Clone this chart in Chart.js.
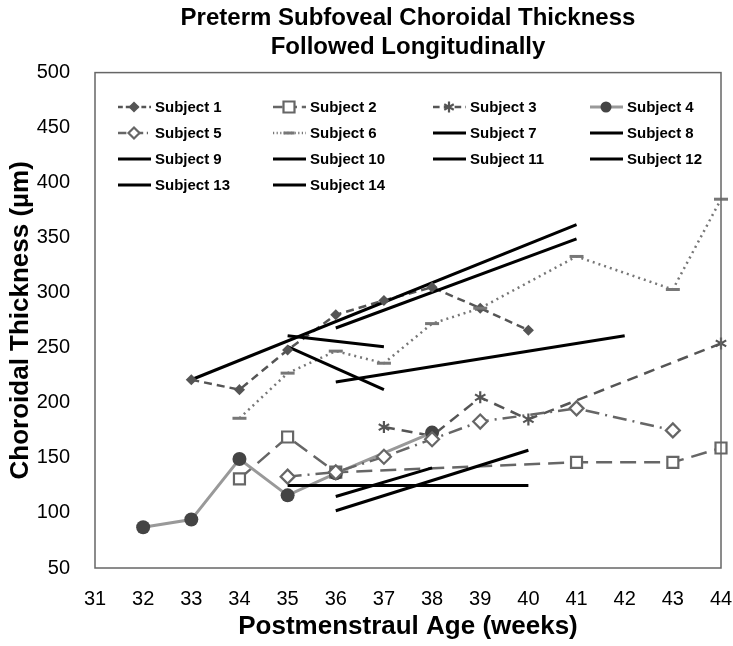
<!DOCTYPE html>
<html lang="en">
<head>
  <meta charset="utf-8">
  <title>Preterm Subfoveal Choroidal Thickness</title>
  <script src="https://cdn.jsdelivr.net/npm/chart.js@4/dist/chart.umd.min.js"></script>
  <style>
    html, body { margin: 0; padding: 0; background: #fff; }
    #wrap { width: 733px; height: 646px; }
  </style>
</head>
<body>
  <div id="wrap"><canvas id="myChart" width="733" height="646"></canvas></div>
  <script>
    // values
    const subjectNames = ['Subject 1', 'Subject 2', 'Subject 3', 'Subject 4', 'Subject 5', 'Subject 6', 'Subject 7',
      'Subject 8', 'Subject 9', 'Subject 10', 'Subject 11', 'Subject 12', 'Subject 13', 'Subject 14'];

    const s1Weeks = [33, 34, 35, 36, 37, 38, 39, 40];
    const s1Values = [221, 212, 248, 280, 293, 305, 286, 266];
    const s2Weeks = [34, 35, 36, 41, 43, 44];
    const s2Values = [131, 169, 137, 146, 146, 159];
    const s3Weeks = [37, 38, 39, 40, 44];
    const s3Values = [178, 170, 205, 185, 254];
    const s4Weeks = [32, 33, 34, 35, 36, 38];
    const s4Values = [87, 94, 149, 116, 136, 173];
    const s5Weeks = [35, 36, 37, 38, 39, 41, 43];
    const s5Values = [133, 137, 151, 167, 183, 195, 175];
    const s6Weeks = [34, 35, 36, 37, 38, 39, 41, 43, 44];
    const s6Values = [186, 227, 247, 236, 272, 286, 333, 303, 385];
    const s7Weeks = [33, 41];
    const s7Values = [221, 362];
    const s8Weeks = [36, 41];
    const s8Values = [268, 349];
    const s9Weeks = [35, 37];
    const s9Values = [261, 251];
    const s10Weeks = [35, 37];
    const s10Values = [251, 212];
    const s11Weeks = [36, 42];
    const s11Values = [219, 261];
    const s12Weeks = [35, 40];
    const s12Values = [125, 125];
    const s13Weeks = [36, 38];
    const s13Values = [115, 141];
    const s14Weeks = [36, 40];
    const s14Values = [102, 157];

    const xTicks = [31, 32, 33, 34, 35, 36, 37, 38, 39, 40, 41, 42, 43, 44];
    const yTicks = [50, 100, 150, 200, 250, 300, 350, 400, 450, 500];

    const allWeeks = [s1Weeks, s2Weeks, s3Weeks, s4Weeks, s5Weeks, s6Weeks, s7Weeks,
      s8Weeks, s9Weeks, s10Weeks, s11Weeks, s12Weeks, s13Weeks, s14Weeks];
    const allValues = [s1Values, s2Values, s3Values, s4Values, s5Values, s6Values, s7Values,
      s8Values, s9Values, s10Values, s11Values, s12Values, s13Values, s14Values];

    const FONT = '"Liberation Sans", Arial, Helvetica, sans-serif';

    function pts(w, v) {
      return w.map(function (x, i) { return { x: x, y: v[i] }; });
    }

    // look of each subject series
    const looks = [
      { color: '#555', width: 2.5, dash: [8, 5], marker: 'diamond', size: 4, fill: '#555' },
      { color: '#666', width: 2.5, dash: [16, 8], marker: 'square', size: 5.5, fill: '#fff' },
      { color: '#555', width: 2.5, dash: [11, 7], marker: 'star', size: 6, fill: '#555' },
      { color: '#999', width: 3, dash: [], marker: 'circle', size: 7, fill: '#444', markerColor: '#444' },
      { color: '#666', width: 2.5, dash: [14, 6, 2, 6], marker: 'diamond', size: 7, fill: '#fff' },
      { color: '#777', width: 2.5, dash: [2, 4], marker: 'dash', size: 7, fill: '#777' }
    ];

    const datasets = subjectNames.map(function (name, i) {
      const lk = looks[i] || { color: '#000', width: 3, dash: [], marker: null };
      return {
        label: name,
        data: pts(allWeeks[i], allValues[i]),
        borderColor: lk.color,
        borderWidth: lk.width,
        borderDash: lk.dash,
        pointRadius: 0,
        tension: 0,
        fill: false,
        order: i < 6 ? 20 - i : 1,
        look: lk
      };
    });

    function drawMarker(ctx, lk, x, y) {
      if (!lk.marker) return;
      const r = lk.size;
      ctx.save();
      ctx.setLineDash([]);
      ctx.strokeStyle = lk.markerColor || lk.color;
      ctx.fillStyle = lk.fill;
      ctx.lineWidth = 2.2;
      ctx.beginPath();
      if (lk.marker === 'diamond') {
        ctx.moveTo(x, y - r); ctx.lineTo(x + r, y); ctx.lineTo(x, y + r); ctx.lineTo(x - r, y); ctx.closePath();
        ctx.fill(); ctx.stroke();
      } else if (lk.marker === 'square') {
        ctx.rect(x - r, y - r, 2 * r, 2 * r);
        ctx.fill(); ctx.stroke();
      } else if (lk.marker === 'circle') {
        ctx.arc(x, y, r, 0, Math.PI * 2);
        ctx.fill();
      } else if (lk.marker === 'star') {
        for (let k = 0; k < 3; k++) {
          const a = Math.PI / 2 + k * Math.PI / 3;
          ctx.moveTo(x + Math.cos(a) * r, y + Math.sin(a) * r);
          ctx.lineTo(x - Math.cos(a) * r, y - Math.sin(a) * r);
        }
        ctx.stroke();
      } else if (lk.marker === 'dash') {
        ctx.lineWidth = 3;
        ctx.moveTo(x - r, y); ctx.lineTo(x + r, y);
        ctx.stroke();
      }
      ctx.restore();
    }

    // markers on top of the lines, the frame, and the legend inside the plot
    const extras = {
      id: 'extras',
      afterDatasetsDraw: function (chart) {
        const ctx = chart.ctx;
        chart.data.datasets.forEach(function (ds, i) {
          const meta = chart.getDatasetMeta(i);
          meta.data.forEach(function (p) { drawMarker(ctx, ds.look, p.x, p.y); });
        });
      },
      afterDraw: function (chart) {
        const ctx = chart.ctx;
        const a = chart.chartArea;
        ctx.save();
        ctx.strokeStyle = '#666';
        ctx.lineWidth = 1.5;
        ctx.strokeRect(a.left, a.top, a.right - a.left, a.bottom - a.top);

        const colX = [118, 273, 433, 590];
        ctx.font = 'bold 15px ' + FONT;
        ctx.textBaseline = 'middle';
        ctx.textAlign = 'left';
        chart.data.datasets.forEach(function (ds, i) {
          const col = i % 4, row = Math.floor(i / 4);
          const x = colX[col], y = 107 + row * 26;
          const lk = ds.look;
          ctx.save();
          ctx.strokeStyle = lk.color;
          ctx.lineWidth = lk.width;
          ctx.setLineDash(lk.dash.map(function (d) { return d * 0.6; }));
          ctx.beginPath();
          ctx.moveTo(x, y); ctx.lineTo(x + 33, y);
          ctx.stroke();
          ctx.restore();
          drawMarker(ctx, Object.assign({}, lk, { size: Math.min(lk.size, 5.5) }), x + 16, y);
          ctx.fillStyle = '#000';
          ctx.fillText(ds.label, x + 37, y + 1);
        });
        ctx.restore();
      }
    };

    new Chart(document.getElementById('myChart'), {
      type: 'line',
      data: { datasets: datasets },
      options: {
        responsive: false,
        animation: false,
        layout: { padding: 0 },
        plugins: {
          legend: { display: false },
          tooltip: { enabled: false },
          title: {
            display: true,
            fullSize: false,
            text: ['Preterm Subfoveal Choroidal Thickness', 'Followed Longitudinally'],
            color: '#000',
            font: { family: FONT, size: 24, weight: 'bold', lineHeight: 1.2 },
            padding: { top: 4, bottom: 11 }
          }
        },
        scales: {
          x: {
            type: 'linear',
            min: 31,
            max: 44,
            afterFit: function (s) { s.height = 78; s.paddingLeft = 0; s.paddingRight = 12; },
            afterBuildTicks: function (s) { s.ticks = xTicks.map(function (v) { return { value: v }; }); },
            grid: { display: false, drawTicks: false },
            border: { display: false },
            ticks: { color: '#000', padding: 19, maxRotation: 0, font: { family: FONT, size: 20 } },
            title: {
              display: true,
              text: 'Postmenstraul Age (weeks)',
              color: '#000',
              font: { family: FONT, size: 26, weight: 'bold', lineHeight: 1.2 },
              padding: { top: 0, bottom: 4 }
            }
          },
          y: {
            min: 50,
            max: 500,
            afterFit: function (s) { s.width = 95; s.paddingTop = 0; s.paddingBottom = 0; },
            afterBuildTicks: function (s) { s.ticks = yTicks.map(function (v) { return { value: v }; }); },
            grid: { display: false, drawTicks: false },
            border: { display: false },
            ticks: { color: '#000', padding: 25, font: { family: FONT, size: 20 } },
            title: {
              display: true,
              text: 'Choroidal Thickness (µm)',
              color: '#000',
              font: { family: FONT, size: 26, weight: 'bold', lineHeight: 1.2 },
              padding: { top: 5, bottom: 0 }
            }
          }
        }
      },
      plugins: [extras]
    });
  </script>
</body>
</html>
